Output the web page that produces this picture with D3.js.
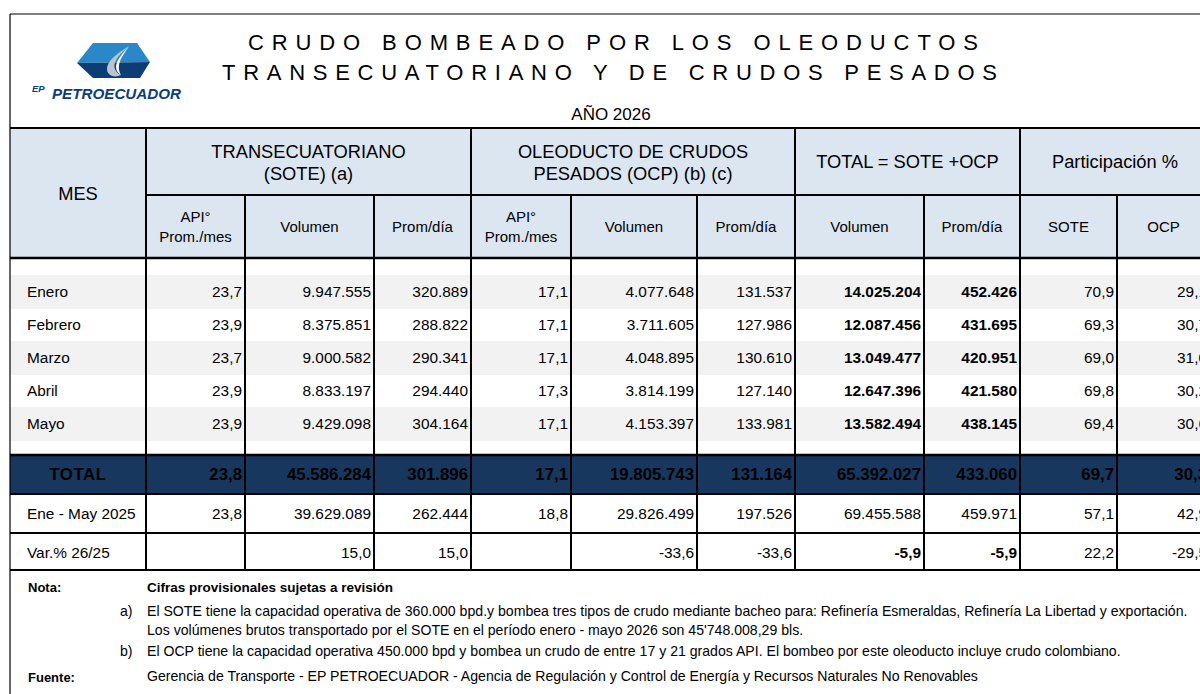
<!DOCTYPE html>
<meta charset="utf-8">
<head>
  <title>Crudo bombeado por los oleoductos 2026</title>
</head>
<style>
  body { margin: 0; background: #fff; }
  svg { display: block; font-family: "Liberation Sans", Arial, sans-serif; }
  .cell { font-size: 15.4px; fill: #000; }
  .hdr { font-size: 18.3px; fill: #000; }
  .sub { font-size: 15px; fill: #000; }
  .note { font-size: 14.1px; fill: #000; }
</style>
<body>
<script src="https://cdn.jsdelivr.net/npm/d3@7"></script>
<script>
var months    = ["Enero", "Febrero", "Marzo", "Abril", "Mayo"];
var apiSote   = [23.7, 23.9, 23.7, 23.9, 23.9];
var volSote   = [9947555, 8375851, 9000582, 8833197, 9429098];
var promSote  = [320889, 288822, 290341, 294440, 304164];
var apiOcp    = [17.1, 17.1, 17.1, 17.3, 17.1];
var volOcp    = [4077648, 3711605, 4048895, 3814199, 4153397];
var promOcp   = [131537, 127986, 130610, 127140, 133981];
var volTotal  = [14025204, 12087456, 13049477, 12647396, 13582494];
var promTotal = [452426, 431695, 420951, 421580, 438145];
var partSote  = [70.9, 69.3, 69.0, 69.8, 69.4];
var partOcp   = [29.1, 30.7, 31.0, 30.2, 30.6];

var totalRow = ["TOTAL", 23.8, 45586284, 301896, 17.1, 19805743, 131164, 65392027, 433060, 69.7, 30.3];
var prevRow  = ["Ene - May 2025", 23.8, 39629089, 262444, 18.8, 29826499, 197526, 69455588, 459971, 57.1, 42.9];
var varRow   = ["Var.% 26/25", null, 15.0, 15.0, null, -33.6, -33.6, -5.9, -5.9, 22.2, -29.5];

// column kinds: d = one decimal, i = integer with thousands
var colKind = ["m", "d", "i", "i", "d", "i", "i", "i", "i", "d", "d"];
var varKind = ["m", "d", "d", "d", "d", "d", "d", "d", "d", "d", "d"];

var groupHeaders = [
  {from: 1, to: 4, lines: ["TRANSECUATORIANO", "(SOTE) (a)"]},
  {from: 4, to: 7, lines: ["OLEODUCTO DE CRUDOS", "PESADOS (OCP) (b) (c)"]},
  {from: 7, to: 9, lines: ["TOTAL = SOTE +OCP"]},
  {from: 9, to: 11, lines: ["Participación %"]}
];
var subHeaders = [["API°", "Prom./mes"], ["Volumen"], ["Prom/día"], ["API°", "Prom./mes"],
  ["Volumen"], ["Prom/día"], ["Volumen"], ["Prom/día"], ["SOTE"], ["OCP"]];

var notes = [
  {x: 120, y: 616, t: "a)"},
  {x: 147, y: 616, t: "El SOTE tiene la capacidad operativa de 360.000 bpd.y bombea tres tipos de crudo mediante bacheo para: Refinería Esmeraldas, Refinería La Libertad y exportación."},
  {x: 147, y: 635, t: "Los volúmenes brutos transportado por el SOTE en el período enero - mayo  2026 son 45'748.008,29 bls."},
  {x: 120, y: 656, t: "b)"},
  {x: 147, y: 656, t: "El OCP tiene la capacidad operativa 450.000 bpd y bombea un crudo de entre 17 y 21 grados API. El bombeo por este oleoducto incluye crudo colombiano."},
  {x: 147, y: 681, t: "Gerencia de Transporte - EP PETROECUADOR - Agencia de Regulación y Control de Energía y Recursos Naturales No Renovables"}
];

var W = 1200, H = 694;
var navy = "#17375e", headBg = "#dce6f1", stripe = "#f2f2f2";

var es = d3.formatLocale({decimal: ",", thousands: ".", grouping: [3], currency: ["", ""], minus: "-"});
var fmtD = es.format(",.1f"), fmtI = es.format(",d");
function fmt(v, k) {
  if (v === null || v === undefined) return "";
  if (typeof v === "string") return v;
  return k === "d" ? fmtD(v) : fmtI(v);
}

// column edges -> x scale
var edges = [10, 146, 245, 374, 471, 571, 697, 795, 924, 1020, 1117, 1210];
var x = d3.scaleOrdinal().domain(d3.range(edges.length)).range(edges);
// month rows
var yRow = d3.scaleLinear().domain([0, months.length]).range([275, 440]);

var svg = d3.select("body").append("svg")
    .attr("width", W)
    .attr("height", H);

// ---- title block ----
svg.append("text")
    .attr("x", 248).attr("y", 50)
    .attr("textLength", 730).attr("lengthAdjust", "spacing")
    .style("font-size", "22px")
    .text("CRUDO  BOMBEADO  POR  LOS  OLEODUCTOS");
svg.append("text")
    .attr("x", 222).attr("y", 80)
    .attr("textLength", 775).attr("lengthAdjust", "spacing")
    .style("font-size", "22px")
    .text("TRANSECUATORIANO  Y DE  CRUDOS  PESADOS");
svg.append("text")
    .attr("x", 611).attr("y", 120)
    .attr("text-anchor", "middle")
    .style("font-size", "17px")
    .text("AÑO 2026");

// logo
var logo = svg.append("g");
logo.append("path")
    .attr("d", "M93,43 L137,43 L150,62 L77,63 Z")
    .attr("fill", "#2a88c8");
logo.append("path")
    .attr("d", "M77,63 L150,62 L140,78 L93,78 Z")
    .attr("fill", "#0d3d75");
logo.append("path")
    .attr("d", "M129,46 C116,54 106,62 107,70 C108,76 115,78 121,75 C114,72 112,65 118,57 C122,52 126,49 129,46 Z")
    .attr("fill", "#b9c4cf");
logo.append("path")
    .attr("d", "M129,46 C122,54 116,61 116,67 C116,71 118,73 121,75 C118,70 118,64 122,57 Z")
    .attr("fill", "#ffffff");
logo.append("text")
    .attr("x", 32).attr("y", 92)
    .style("font-size", "9.5px").style("font-style", "italic").style("font-weight", "bold")
    .attr("fill", "#0d3d75")
    .text("EP");
logo.append("text")
    .attr("x", 52).attr("y", 99)
    .attr("textLength", 129).attr("lengthAdjust", "spacingAndGlyphs")
    .style("font-size", "14px").style("font-style", "italic").style("font-weight", "bold")
    .attr("fill", "#0d3d75")
    .text("PETROECUADOR");

// ---- header ----
svg.append("rect")
    .attr("x", x(0)).attr("y", 128)
    .attr("width", W - x(0)).attr("height", 130)
    .attr("fill", headBg);

svg.append("text").attr("class", "hdr")
    .attr("x", (x(0) + x(1)) / 2).attr("y", 200)
    .attr("text-anchor", "middle")
    .text("MES");

groupHeaders.forEach(function(g) {
  var cx = (x(g.from) + x(g.to)) / 2;
  var y0 = g.lines.length === 1 ? 168 : 158;
  g.lines.forEach(function(l, i) {
    svg.append("text").attr("class", "hdr")
        .attr("x", cx).attr("y", y0 + i * 22)
        .attr("text-anchor", "middle")
        .text(l);
  });
});

subHeaders.forEach(function(s, i) {
  var cx = (x(i + 1) + x(i + 2)) / 2;
  var y0 = s.length === 1 ? 232 : 222;
  s.forEach(function(l, j) {
    svg.append("text").attr("class", "sub")
        .attr("x", cx).attr("y", y0 + j * 20)
        .attr("text-anchor", "middle")
        .text(l);
  });
});

// ---- body ----
// stripes on alternate month rows
svg.selectAll(".stripe")
    .data(months.filter(function(d, i) { return i % 2 === 0; }))
  .enter().append("rect")
    .attr("class", "stripe")
    .attr("x", x(0)).attr("width", W - x(0))
    .attr("y", function(d) { return yRow(months.indexOf(d)); })
    .attr("height", yRow(1) - yRow(0) + 1)
    .attr("fill", stripe);

var monthRows = months.map(function(m, i) {
  return [m, apiSote[i], volSote[i], promSote[i], apiOcp[i], volOcp[i], promOcp[i],
    volTotal[i], promTotal[i], partSote[i], partOcp[i]];
});

function drawRow(row, yMid, opts) {
  var kinds = opts.kinds || colKind;
  row.forEach(function(v, c) {
    var t = svg.append("text").attr("class", "cell")
        .attr("y", yMid + 5.5)
        .text(fmt(v, kinds[c]));
    if (c === 0) {
      if (opts.centerFirst) t.attr("x", (x(0) + x(1)) / 2).attr("text-anchor", "middle");
      else t.attr("x", x(0) + 17);
    } else {
      t.attr("x", x(c + 1) - opts.pad).attr("text-anchor", "end");
    }
    if (opts.bold || (opts.boldCols && opts.boldCols.indexOf(c) >= 0)) t.style("font-weight", "bold");
    if (opts.fill) t.attr("fill", opts.fill);
    if (opts.size) t.style("font-size", opts.size);
    if (opts.spacing && c === 0) t.style("letter-spacing", opts.spacing);
  });
}

monthRows.forEach(function(r, i) {
  drawRow(r, (yRow(i) + yRow(i + 1)) / 2, {pad: 3, boldCols: [7, 8]});
});

// total row
svg.append("rect")
    .attr("x", x(0)).attr("y", 455)
    .attr("width", W - x(0)).attr("height", 39)
    .attr("fill", navy);
drawRow(totalRow, 474, {pad: 3, bold: true, fill: "#fff", size: "16.8px", centerFirst: true, spacing: "0.6px"});
drawRow(prevRow, 513, {pad: 3});
drawRow(varRow, 552, {pad: 3, boldCols: [7, 8], kinds: varKind});

// ---- grid lines ----
var grid = svg.append("g").attr("stroke", "#000");
function hline(y, x1, w) {
  grid.append("line").attr("x1", x1).attr("x2", W).attr("y1", y).attr("y2", y).attr("stroke-width", w);
}
function vline(xx, y1, y2, w) {
  grid.append("line").attr("x1", xx).attr("x2", xx).attr("y1", y1).attr("y2", y2).attr("stroke-width", w);
}
// outer frame
hline(14, x(0), 1.2);
vline(x(0), 14, H, 1.2);
// header lines
hline(128, x(0), 2);
hline(195, x(1), 2);
hline(258, x(0), 2.5);
// group dividers (full header height)
[1, 4, 7, 9].forEach(function(c) { vline(x(c), 128, 570, 2); });
// sub dividers
[2, 3, 5, 6, 8, 10].forEach(function(c) { vline(x(c), 195, 570, 2); });
// body horizontal lines
hline(455, x(0), 2.5);
hline(494, x(0), 2);
hline(533, x(0), 2);
hline(570, x(0), 2);

// ---- notes ----
svg.append("text").attr("class", "note")
    .attr("x", 28).attr("y", 592).style("font-weight", "bold")
    .style("font-size", "13px")
    .text("Nota:");
svg.append("text").attr("class", "note")
    .attr("x", 147).attr("y", 592).style("font-weight", "bold")
    .style("font-size", "13.5px")
    .text("Cifras provisionales sujetas a revisión");
svg.append("text").attr("class", "note")
    .attr("x", 28).attr("y", 682).style("font-weight", "bold")
    .style("font-size", "13px")
    .text("Fuente:");
svg.selectAll(".ntext")
    .data(notes)
  .enter().append("text")
    .attr("class", "note ntext")
    .attr("x", function(d) { return d.x; })
    .attr("y", function(d) { return d.y; })
    .text(function(d) { return d.t; });
</script>
</body>
